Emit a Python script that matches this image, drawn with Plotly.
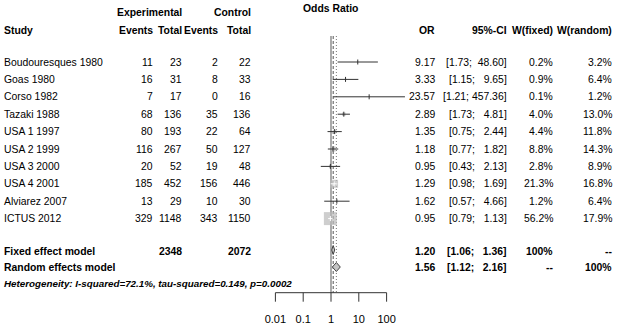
import numpy as np
import plotly.graph_objects as go

# ---- data -----------------------------------------------------------------
studies = ["Boudouresques 1980", "Goas 1980", "Corso 1982", "Tazaki 1988",
           "USA 1 1997", "USA 2 1999", "USA 3 2000", "USA 4 2001",
           "Alviarez 2007", "ICTUS 2012"]
exp_events = [11, 16, 7, 68, 80, 116, 20, 185, 13, 329]
exp_total = [23, 31, 17, 136, 193, 267, 52, 452, 29, 1148]
ctrl_events = [2, 8, 0, 35, 22, 50, 19, 156, 10, 343]
ctrl_total = [22, 33, 16, 136, 64, 127, 48, 446, 30, 1150]
odds_ratio = [9.17, 3.33, 23.57, 2.89, 1.35, 1.18, 0.95, 1.29, 1.62, 0.95]
ci_lower = [1.73, 1.15, 1.21, 1.73, 0.75, 0.77, 0.43, 0.98, 0.57, 0.79]
ci_upper = [48.60, 9.65, 457.36, 4.81, 2.44, 1.82, 2.13, 1.69, 4.66, 1.13]
w_fixed = [0.2, 0.9, 0.1, 4.0, 4.4, 8.8, 2.8, 21.3, 1.2, 56.2]
w_random = [3.2, 6.4, 1.2, 13.0, 11.8, 14.3, 8.9, 16.8, 6.4, 17.9]

fixed_or, fixed_lo, fixed_hi = 1.20, 1.06, 1.36
random_or, random_lo, random_hi = 1.56, 1.12, 2.16
total_exp, total_ctrl = 2348, 2072
heterogeneity = "Heterogeneity: I-squared=72.1%, tau-squared=0.149, p=0.0002"

axis_ticks = [0.01, 0.1, 1, 10, 100]
axis_tick_labels = ["0.01", "0.1", "1", "10", "100"]

# ---- layout geometry (pixels) --------------------------------------------
W, H = 620, 330
X_ONE = 331.0          # horizontal position of OR = 1
PX_DECADE = 27.8       # pixels per factor of ten
ROW0, ROW_STEP = 62.0, 17.4
Y_FIXED, Y_RANDOM, Y_HET = 251.0, 267.5, 283.5
Y_HEAD1, Y_HEAD2, Y_TITLE = 12.3, 30.0, 8.3
Y_TOP, Y_AXIS, TICK_LEN, Y_TICKLAB = 36.0, 292.7, 9.0, 320.0

FONT = "Liberation Sans, Arial, sans-serif"
FS = 10.4
DARK = "#333333"

row_y = [ROW0 + ROW_STEP * i for i in range(len(studies))]

fig = go.Figure()


def add_lines(xs, ys, color, width=1.0, dash="solid"):
    fig.add_trace(go.Scatter(x=xs, y=ys, mode="lines", hoverinfo="skip",
                             line=dict(color=color, width=width, dash=dash),
                             showlegend=False))


# reference lines: no effect, fixed and random estimates
add_lines([1, 1], [Y_TOP, Y_AXIS], "#ababab", 2.0)
add_lines([fixed_or, fixed_or], [Y_TOP, Y_AXIS], "#555555", 1.0, "3px,2px")
add_lines([random_or, random_or], [Y_TOP, Y_AXIS], "#777777", 1.0, "1px,2px")

# weight squares
w_max = max(w_fixed)
sizes = [13.0 * np.sqrt(w / w_max) for w in w_fixed]
fig.add_trace(go.Scatter(x=odds_ratio, y=row_y, mode="markers", hoverinfo="skip",
                         marker=dict(symbol="square", size=sizes, color="#b9b9b9",
                                     line=dict(width=0)),
                         showlegend=False))

# confidence intervals and estimate ticks
dark_x, dark_y, white_x, white_y = [], [], [], []
for y, est, lo, hi, s in zip(row_y, odds_ratio, ci_lower, ci_upper, sizes):
    half = s / 2.0
    inside = ((np.log10(est) - np.log10(lo)) * PX_DECADE <= half and
              (np.log10(hi) - np.log10(est)) * PX_DECADE <= half)
    xs, ys = (white_x, white_y) if inside else (dark_x, dark_y)
    xs += [lo, hi, None, est, est, None]
    ys += [y, y, None, y - 2.5, y + 2.5, None]
add_lines(dark_x, dark_y, DARK, 1.0)
add_lines(white_x, white_y, "white", 1.0)

# pooled estimates as diamonds
for y, est, lo, hi in [(Y_FIXED - 1.0, fixed_or, fixed_lo, fixed_hi),
                       (Y_RANDOM - 0.5, random_or, random_lo, random_hi)]:
    fig.add_trace(go.Scatter(x=[lo, est, hi, est, lo], y=[y, y - 4.5, y, y + 4.5, y],
                             mode="lines", fill="toself", fillcolor="#c4c4c4",
                             line=dict(color="#444444", width=1), hoverinfo="skip",
                             showlegend=False))

# bottom axis
add_lines([axis_ticks[0], axis_ticks[-1]], [Y_AXIS, Y_AXIS], DARK, 1.0)
tx, ty = [], []
for t in axis_ticks:
    tx += [t, t, None]
    ty += [Y_AXIS, Y_AXIS + TICK_LEN, None]
add_lines(tx, ty, DARK, 1.0)
fig.add_trace(go.Scatter(x=axis_ticks, y=[Y_TICKLAB] * len(axis_ticks), mode="text",
                         text=axis_tick_labels, textposition="middle center",
                         textfont=dict(family=FONT, size=11, color="black"),
                         hoverinfo="skip", showlegend=False))

# ---- text table ------------------------------------------------------------
annotations = []


def txt(x, y, s, anchor="right", bold=False, italic=False, size=FS):
    if italic:
        s = f"<i>{s}</i>"
    if bold:
        s = f"<b>{s}</b>"
    annotations.append(dict(x=x / W, y=y, xref="paper", yref="y", text=s,
                            xanchor=anchor, yanchor="middle", showarrow=False,
                            borderpad=0, font=dict(family=FONT, size=size, color="black")))


NB = "\u00a0"


def ci_text(lo, hi):
    return f"[{lo:.2f};{NB}" + f"{hi:6.2f}".replace(" ", NB) + "]"


X_STUDY, X_EEV, X_ETOT, X_CEV, X_CTOT = 3, 154, 183, 219, 251.5
X_OR, X_CI, X_WF, X_WR = 436, 508, 554, 613

txt(331, Y_TITLE, "Odds Ratio", anchor="center", bold=True)
txt(X_ETOT, Y_HEAD1, "Experimental", bold=True)
txt(X_CTOT, Y_HEAD1, "Control", bold=True)
txt(X_STUDY, Y_HEAD2, "Study", anchor="left", bold=True)
for x, s in [(X_EEV, "Events"), (X_ETOT, "Total"), (X_CEV, "Events"), (X_CTOT, "Total"),
             (X_OR, "OR"), (X_CI, "95%-CI"), (X_WF, "W(fixed)"), (X_WR, "W(random)")]:
    txt(x, Y_HEAD2, s, bold=True)

for i, y in enumerate(row_y):
    txt(X_STUDY, y, studies[i], anchor="left")
    txt(X_EEV, y, str(exp_events[i]))
    txt(X_ETOT, y, str(exp_total[i]))
    txt(X_CEV, y, str(ctrl_events[i]))
    txt(X_CTOT, y, str(ctrl_total[i]))
    txt(X_OR, y, f"{odds_ratio[i]:.2f}")
    txt(X_CI, y, ci_text(ci_lower[i], ci_upper[i]))
    txt(X_WF, y, f"{w_fixed[i]:.1f}%")
    txt(X_WR, y, f"{w_random[i]:.1f}%")

txt(X_STUDY, Y_FIXED, "Fixed effect model", anchor="left", bold=True)
txt(X_ETOT, Y_FIXED, str(total_exp), bold=True)
txt(X_CTOT, Y_FIXED, str(total_ctrl), bold=True)
txt(X_OR, Y_FIXED, f"{fixed_or:.2f}", bold=True)
txt(X_CI, Y_FIXED, ci_text(fixed_lo, fixed_hi), bold=True)
txt(X_WF, Y_FIXED, "100%", bold=True)
txt(X_WR, Y_FIXED, "--", bold=True)

txt(X_STUDY, Y_RANDOM, "Random effects model", anchor="left", bold=True)
txt(X_OR, Y_RANDOM, f"{random_or:.2f}", bold=True)
txt(X_CI, Y_RANDOM, ci_text(random_lo, random_hi), bold=True)
txt(X_WF, Y_RANDOM, "--", bold=True)
txt(X_WR, Y_RANDOM, "100%", bold=True)

txt(X_STUDY, Y_HET, heterogeneity, anchor="left", bold=True, italic=True, size=9.8)

fig.update_layout(
    width=W, height=H,
    margin=dict(l=0, r=0, t=0, b=0),
    paper_bgcolor="white", plot_bgcolor="white",
    xaxis=dict(type="log", domain=[0, 1],
               range=[(0 - X_ONE) / PX_DECADE, (W - X_ONE) / PX_DECADE],
               visible=False),
    yaxis=dict(range=[H, 0], domain=[0, 1], visible=False),
    annotations=annotations,
    showlegend=False,
)

fig.write_html("out.html")
